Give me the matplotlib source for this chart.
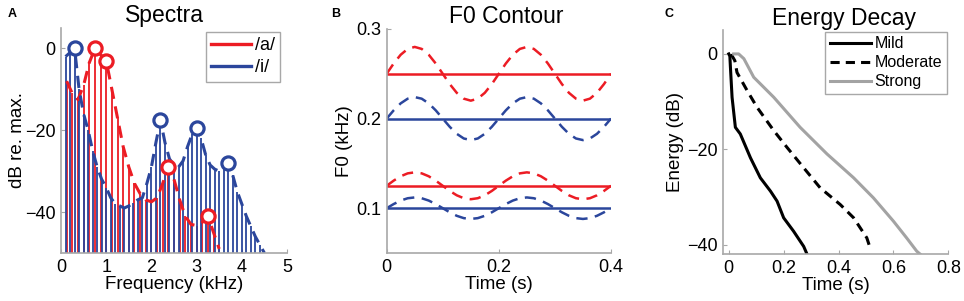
import numpy as np
from matplotlib import pyplot as plt

# ---- panel A: harmonic spectra (dB re. max) ----
a_f0 = 0.125
a_levels = [-8, -11, -12.5, -9, -3.5, 0, -1.5, -3, -10, -17, -24, -29, -33, -35.5,
            -37, -37.5, -36.5, -33, -29, -32, -37, -41, -43, -43.3, -42.5, -41, -45, -49]
a_formants = [6, 8, 19, 26]          # harmonic numbers with a circle

i_f0 = 0.1
i_levels = [-2, -1, 0, -10, -16, -20, -25, -29, -32, -34, -36.5, -38, -38.5, -39,
            -38.5, -37.8, -37, -36.5, -33, -29, -23, -17.5, -23, -27, -28.5, -29,
            -27.5, -24, -21, -19.5, -22, -26, -28.5, -29.5, -30, -29, -28, -31,
            -35, -38, -41, -43.5, -46, -48, -50]
i_formants = [3, 22, 30, 37]

# ---- panel B: F0 contours ----
f0_red = [0.25, 0.125]
f0_blue = [0.2, 0.1]
t_contour = [0.0, 0.0125, 0.025, 0.0375, 0.05, 0.0625, 0.075, 0.0875, 0.1, 0.1125,
             0.125, 0.1375, 0.15, 0.1625, 0.175, 0.1875, 0.2, 0.2125, 0.225, 0.2375,
             0.25, 0.2625, 0.275, 0.2875, 0.3, 0.3125, 0.325, 0.3375, 0.35, 0.3625,
             0.375, 0.3875, 0.4]
vibrato_pct = [0, 4.6, 8.5, 11.1, 12, 11.1, 8.5, 4.6, 0, -4.6, -8.5, -11.1, -12,
               -11.1, -8.5, -4.6, 0, 4.6, 8.5, 11.1, 12, 11.1, 8.5, 4.6, 0, -4.6,
               -8.5, -11.1, -12, -11.1, -8.5, -4.6, 0]

# ---- panel C: energy decay curves ----
mild_t = [0.0, 0.004, 0.006, 0.012, 0.024, 0.042, 0.079, 0.115, 0.152, 0.176, 0.2, 0.236, 0.273, 0.285]
mild_db = [0, -0.5, -2.8, -9.1, -15.4, -16.8, -21.8, -26, -28.8, -30.9, -34.4, -37.2, -40.4, -42]
moderate_t = [0.01, 0.012, 0.022, 0.03, 0.067, 0.103, 0.164, 0.212, 0.273, 0.333, 0.406, 0.455, 0.503, 0.515]
moderate_db = [0, -0.4, -1.4, -3.9, -7.7, -11.2, -16.1, -19.6, -23.9, -28.1, -31.6, -34.4, -38.6, -40.7]
strong_t = [0.018, 0.036, 0.055, 0.091, 0.164, 0.26, 0.358, 0.455, 0.527, 0.6, 0.648, 0.685, 0.697]
strong_db = [0, 0, -1, -4.9, -9.1, -15.4, -21, -26, -30.2, -35.1, -38.6, -41.4, -42]

RED = '#EC1C24'
BLUE = '#2B469C'
GRAY = '#A3A3A3'
AXC = '#A8A8A8'

plt.rcParams.update({
    'font.family': ['Liberation Sans', 'DejaVu Sans'],
    'font.size': 13,
    'axes.edgecolor': AXC,
    'xtick.color': AXC,
    'ytick.color': AXC,
    'xtick.labelcolor': 'black',
    'ytick.labelcolor': 'black',
    'xtick.direction': 'in',
    'ytick.direction': 'in',
    'xtick.major.size': 3,
    'ytick.major.size': 3,
    'xtick.major.pad': 4,
    'ytick.major.pad': 4,
    'lines.dash_capstyle': 'butt',
})

fig = plt.figure(figsize=(9.64, 3.01), dpi=100)
axA = fig.add_axes([0.0633, 0.1595, 0.2344, 0.7475])
axB = fig.add_axes([0.4011, 0.1595, 0.2327, 0.7442])
axC = fig.add_axes([0.7503, 0.156, 0.2334, 0.744])


def style(ax):
    for s in ['top', 'right']:
        ax.spines[s].set_visible(False)
    for s in ['left', 'bottom']:
        ax.spines[s].set_linewidth(1.2)


# A
a_freq = a_f0 * np.arange(1, len(a_levels) + 1)
i_freq = i_f0 * np.arange(1, len(i_levels) + 1)
axA.vlines(a_freq, -50, a_levels, color=RED, lw=1.3)
axA.vlines(i_freq, -50, i_levels, color=BLUE, lw=1.3)
axA.plot(a_freq, a_levels, color=RED, lw=2.2, ls=(0, (4, 2.5)))
axA.plot(i_freq, i_levels, color=BLUE, lw=2.2, ls=(0, (4, 2.5)))
ka = np.array(a_formants) - 1
ki = np.array(i_formants) - 1
axA.plot(a_freq[ka], np.array(a_levels)[ka], 'o', mfc='white', mec=RED, mew=2.3, ms=9.5, ls='none')
axA.plot(i_freq[ki], np.array(i_levels)[ki], 'o', mfc='white', mec=BLUE, mew=2.3, ms=9.5, ls='none')
hA = [plt.Line2D([], [], color=RED, lw=2.4), plt.Line2D([], [], color=BLUE, lw=2.4)]
axA.legend(hA, ['/a/', '/i/'], loc='upper right', bbox_to_anchor=(0.985, 1.0), fontsize=13,
           handlelength=2.2, handletextpad=0.2, borderpad=0.3, labelspacing=0.3,
           fancybox=False, edgecolor=AXC, framealpha=1, borderaxespad=0.2)
axA.set_xlim(0, 5)
axA.set_ylim(-50, 5)
axA.set_xticks([0, 1, 2, 3, 4, 5])
axA.set_yticks([-40, -20, 0])
axA.set_xlabel('Frequency (kHz)', labelpad=0, fontsize=13.5)
axA.set_ylabel('dB re. max.', labelpad=-1, fontsize=13.5)
axA.set_title('Spectra', fontsize=16.5, pad=4, x=0.46)
style(axA)

# B
t = np.array(t_contour)
mod = 1 + np.array(vibrato_pct) / 100
for f in f0_red:
    axB.plot([t[0], t[-1]], [f, f], color=RED, lw=1.8)
    axB.plot(t, f * mod, color=RED, lw=1.8, ls=(0, (4.5, 3)))
for f in f0_blue:
    axB.plot([t[0], t[-1]], [f, f], color=BLUE, lw=1.8)
    axB.plot(t, f * mod, color=BLUE, lw=1.8, ls=(0, (4.5, 3)))
axB.set_xlim(0, 0.4)
axB.set_ylim(0.05, 0.3)
axB.set_xticks([0, 0.2, 0.4])
axB.set_xticklabels(['0', '0.2', '0.4'])
axB.set_yticks([0.1, 0.2, 0.3])
axB.set_xlabel('Time (s)', labelpad=0, fontsize=13.5)
axB.set_ylabel('F0 (kHz)', labelpad=2, fontsize=13.5)
axB.set_title('F0 Contour', fontsize=16.5, pad=4, x=0.532)
style(axB)

# C
axC.plot(mild_t, mild_db, color='black', lw=2.2, label='Mild')
axC.plot(moderate_t, moderate_db, color='black', lw=2.2, ls=(0, (3, 2)), label='Moderate')
axC.plot(strong_t, strong_db, color=GRAY, lw=2.2, label='Strong')
axC.legend(loc='upper right', fontsize=11.5, handlelength=2.6, handletextpad=0.2,
           borderpad=0.3, labelspacing=0.25, fancybox=False, edgecolor=AXC,
           framealpha=1, borderaxespad=0.1)
axC.set_xlim(-0.02, 0.8)
axC.set_ylim(-42, 5)
axC.set_xticks([0, 0.2, 0.4, 0.6, 0.8])
axC.set_xticklabels(['0', '0.2', '0.4', '0.6', '0.8'])
axC.set_yticks([-40, -20, 0])
axC.set_xlabel('Time (s)', labelpad=0, fontsize=13.5)
axC.set_ylabel('Energy (dB)', labelpad=2, fontsize=13.5)
axC.set_title('Energy Decay', fontsize=16.5, pad=4, x=0.536)
style(axC)

for x, letter in [(0.008, 'A'), (0.343, 'B'), (0.689, 'C')]:
    fig.text(x, 0.975, letter, fontsize=9, fontweight='bold', va='top')

fig.savefig('out.png', dpi=100)
